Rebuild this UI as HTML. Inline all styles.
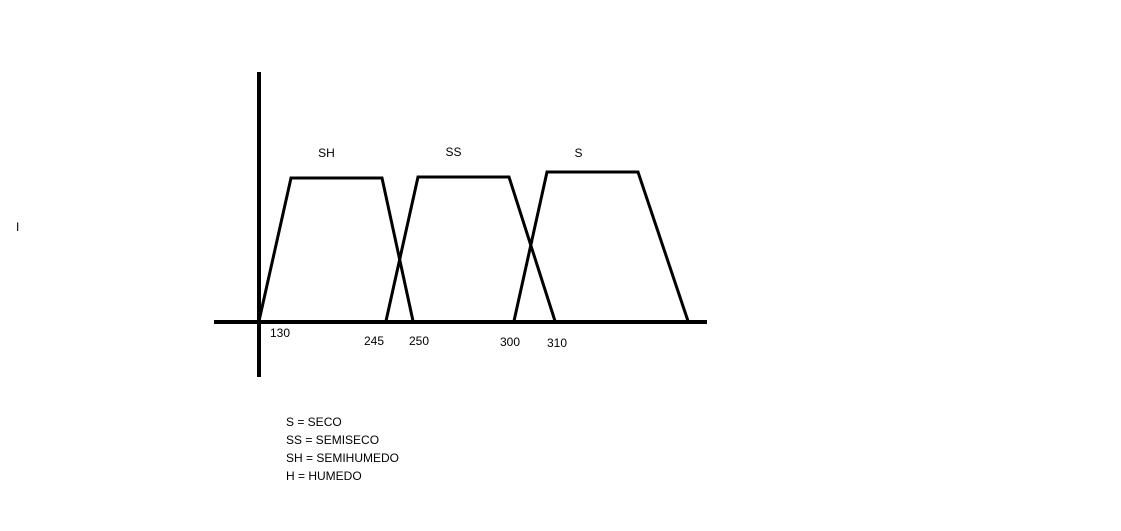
<!DOCTYPE html>
<html><head><meta charset="utf-8"><style>
body{margin:0;background:#fff;width:1121px;height:531px;overflow:hidden;font-family:"Liberation Sans",sans-serif}
svg{position:absolute;left:0;top:0}
.legend{position:absolute;left:286px;top:413px;font-size:12px;line-height:18px;color:#000}
</style></head><body>
<svg width="1121" height="531">
<line x1="259" y1="72" x2="259" y2="377" stroke="#000" stroke-width="4"/>
<line x1="214" y1="322" x2="707" y2="322" stroke="#000" stroke-width="4"/>
<text x="16" y="231" font-size="12" font-family="Liberation Sans, sans-serif">I</text>
<g id="series"></g>
<g id="ticks"></g>
</svg>
<div class="legend">
<div>S = SECO</div>
<div>SS = SEMISECO</div>
<div>SH = SEMIHUMEDO</div>
<div>H = HUMEDO</div>
</div>
<script>
// x positions in drawing units (offset from origin), membership heights 0..1
const seriesNames = ["SH","SS","S"];
const seriesX = [[0,32,123,154],[127,159,250,296],[255,288,379,429]];
const seriesTop = [1.0,1.007,1.042];
const tickLabels = ["130","245","250","300","310"];
const tickX = [11,105,150,241,288];
const tickDy = [16,24,24,25,26];
const labelDy = [-21,-21,-15];
const X0=259, Y0=321, H=143;
const sx=v=>X0+v, sy=v=>Y0-v*H;
const NS="http://www.w3.org/2000/svg";
const g=document.getElementById("series"), tg=document.getElementById("ticks");
seriesNames.forEach((n,i)=>{
  const xs=seriesX[i], t=seriesTop[i];
  const p=document.createElementNS(NS,"polyline");
  p.setAttribute("points",[[xs[0],0],[xs[1],t],[xs[2],t],[xs[3],0]].map(a=>sx(a[0])+","+sy(a[1])).join(" "));
  p.setAttribute("fill","none");p.setAttribute("stroke","#000");p.setAttribute("stroke-width","3");
  
  
  g.appendChild(p);
  const tx=document.createElementNS(NS,"text");
  tx.setAttribute("x",sx((xs[1]+xs[2])/2)-10+(i==2?-4:0));
  tx.setAttribute("y",sy(t)+labelDy[i]);
  tx.setAttribute("font-size","12");
  tx.setAttribute("text-anchor","middle");
  tx.textContent=n;
  
  
  g.appendChild(tx);
});
tickLabels.forEach((l,i)=>{
  const t=document.createElementNS(NS,"text");
  t.setAttribute("x",sx(tickX[i]));
  t.setAttribute("y",Y0+tickDy[i]);
  t.setAttribute("font-size","12");
  t.textContent=l;
  
  
  tg.appendChild(t);
});
</script>
</body></html>
